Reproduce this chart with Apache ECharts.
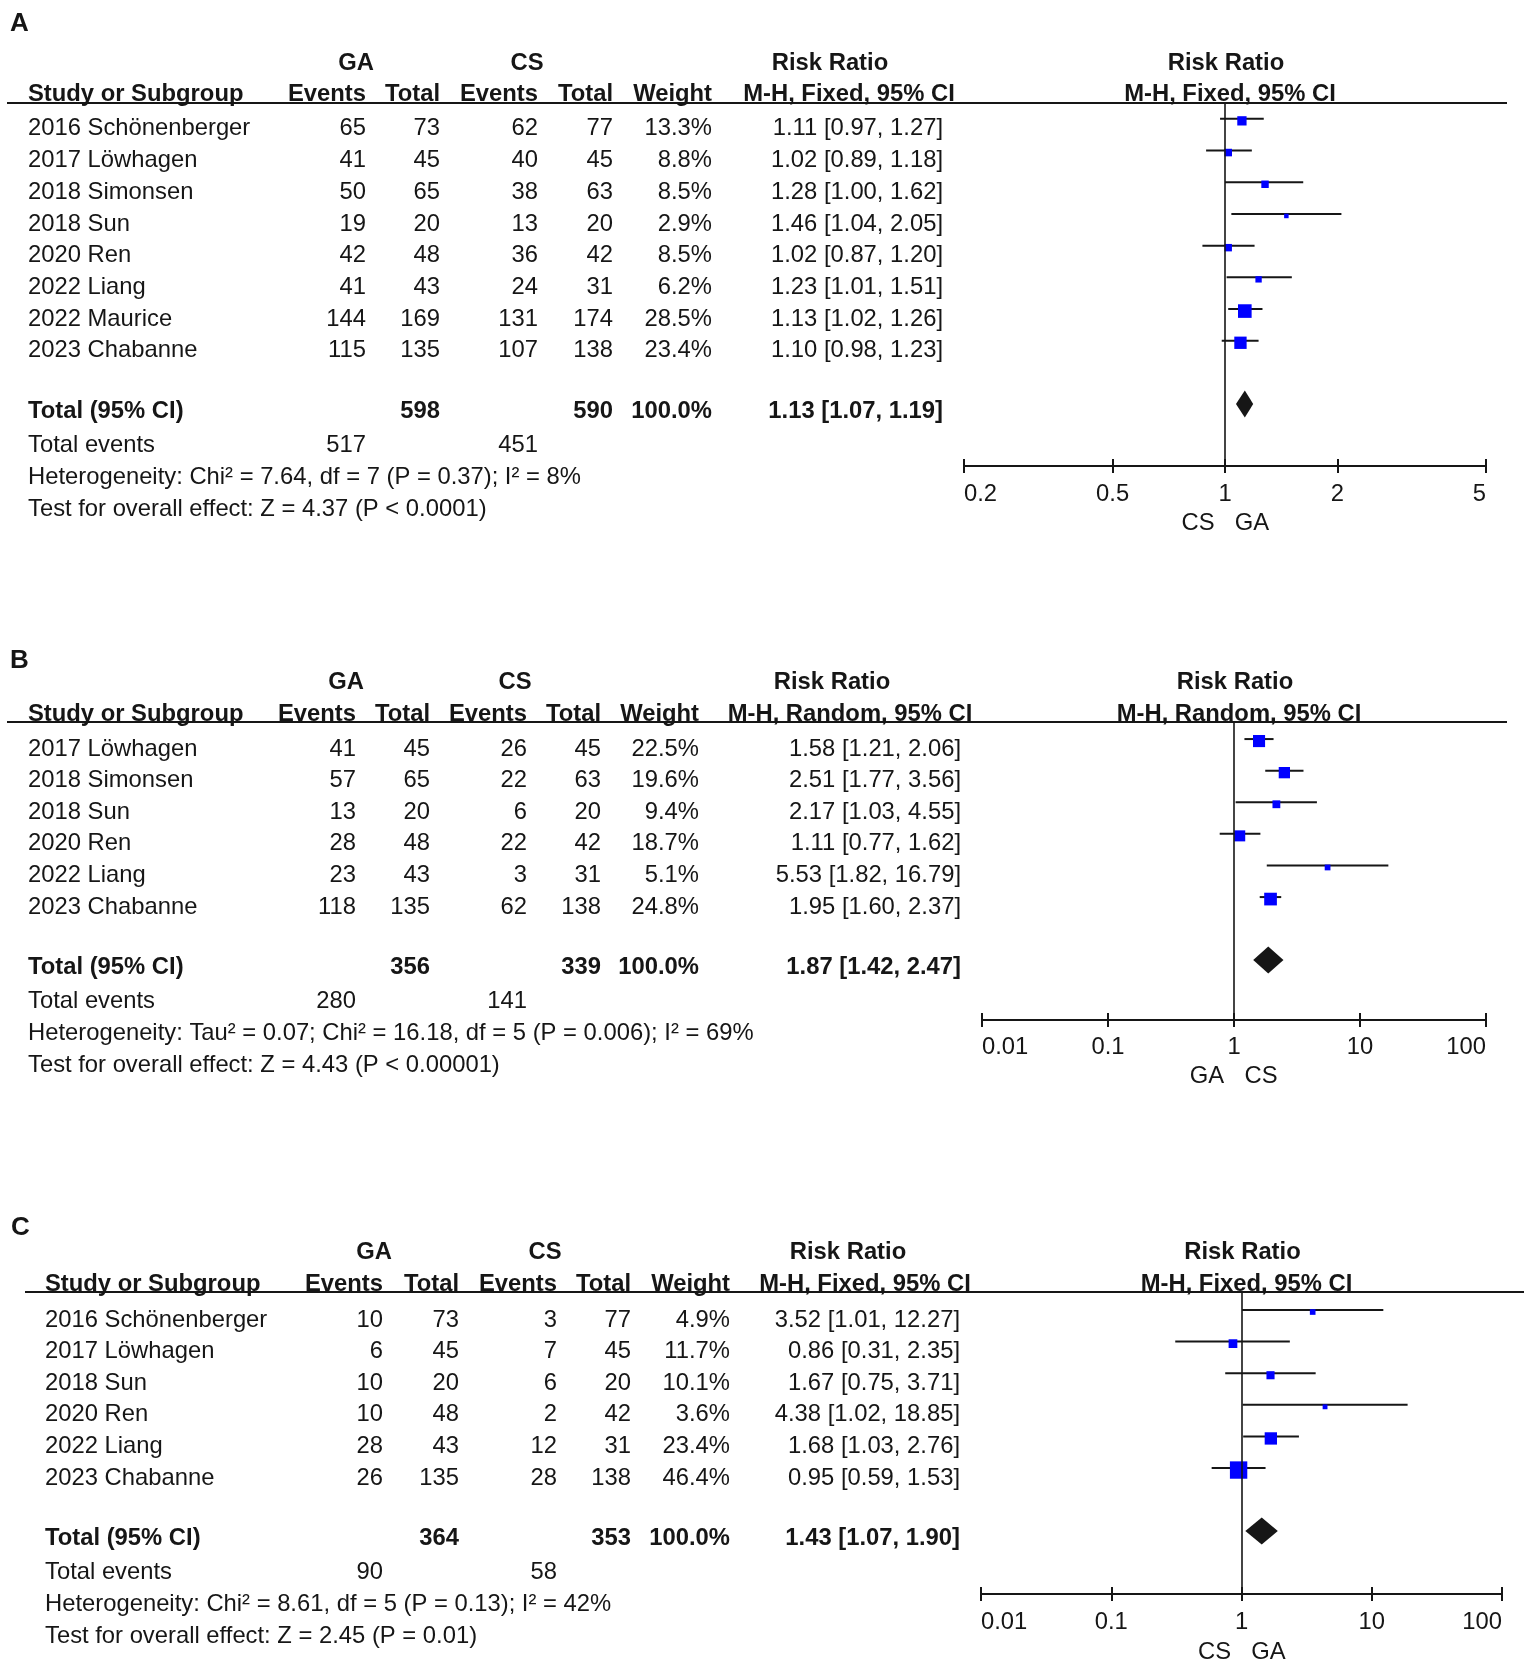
<!DOCTYPE html>
<html>
<head>
<meta charset="utf-8">
<script src="https://cdn.jsdelivr.net/npm/echarts@6.0.0/dist/echarts.min.js"></script>
<style>
html,body{margin:0;padding:0;background:#ffffff;}
#chart{width:1535px;height:1667px;}
</style>
</head>
<body>
<div id="chart"></div>
<script>
// ---------------- DATA ----------------
// Panel A
const studiesA = ['2016 Schönenberger','2017 Löwhagen','2018 Simonsen','2018 Sun','2020 Ren','2022 Liang','2022 Maurice','2023 Chabanne'];
const gaEventsA = [65,41,50,19,42,41,144,115];
const gaTotalA  = [73,45,65,20,48,43,169,135];
const csEventsA = [62,40,38,13,36,24,131,107];
const csTotalA  = [77,45,63,20,42,31,174,138];
const weightA   = [13.3,8.8,8.5,2.9,8.5,6.2,28.5,23.4];
const rrA       = [1.11,1.02,1.28,1.46,1.02,1.23,1.13,1.10];
const lowerA    = [0.97,0.89,1.00,1.04,0.87,1.01,1.02,0.98];
const upperA    = [1.27,1.18,1.62,2.05,1.20,1.51,1.26,1.23];
const totalsA   = [598,590];
const totalEventsA = [517,451];
const pooledA   = [1.13,1.07,1.19];
const methodA   = 'M-H, Fixed, 95% CI';
const hetA      = 'Heterogeneity: Chi² = 7.64, df = 7 (P = 0.37); I² = 8%';
const testA     = 'Test for overall effect: Z = 4.37 (P < 0.0001)';
const directionA = ['CS','GA'];
const ticksA    = [0.2,0.5,1,2,5];
const tickLabelsA = ['0.2','0.5','1','2','5'];

// Panel B
const studiesB = ['2017 Löwhagen','2018 Simonsen','2018 Sun','2020 Ren','2022 Liang','2023 Chabanne'];
const gaEventsB = [41,57,13,28,23,118];
const gaTotalB  = [45,65,20,48,43,135];
const csEventsB = [26,22,6,22,3,62];
const csTotalB  = [45,63,20,42,31,138];
const weightB   = [22.5,19.6,9.4,18.7,5.1,24.8];
const rrB       = [1.58,2.51,2.17,1.11,5.53,1.95];
const lowerB    = [1.21,1.77,1.03,0.77,1.82,1.60];
const upperB    = [2.06,3.56,4.55,1.62,16.79,2.37];
const totalsB   = [356,339];
const totalEventsB = [280,141];
const pooledB   = [1.87,1.42,2.47];
const methodB   = 'M-H, Random, 95% CI';
const hetB      = 'Heterogeneity: Tau² = 0.07; Chi² = 16.18, df = 5 (P = 0.006); I² = 69%';
const testB     = 'Test for overall effect: Z = 4.43 (P < 0.00001)';
const directionB = ['GA','CS'];
const ticksB    = [0.01,0.1,1,10,100];
const tickLabelsB = ['0.01','0.1','1','10','100'];

// Panel C
const studiesC = ['2016 Schönenberger','2017 Löwhagen','2018 Sun','2020 Ren','2022 Liang','2023 Chabanne'];
const gaEventsC = [10,6,10,10,28,26];
const gaTotalC  = [73,45,20,48,43,135];
const csEventsC = [3,7,6,2,12,28];
const csTotalC  = [77,45,20,42,31,138];
const weightC   = [4.9,11.7,10.1,3.6,23.4,46.4];
const rrC       = [3.52,0.86,1.67,4.38,1.68,0.95];
const lowerC    = [1.01,0.31,0.75,1.02,1.03,0.59];
const upperC    = [12.27,2.35,3.71,18.85,2.76,1.53];
const totalsC   = [364,353];
const totalEventsC = [90,58];
const pooledC   = [1.43,1.07,1.90];
const methodC   = 'M-H, Fixed, 95% CI';
const hetC      = 'Heterogeneity: Chi² = 8.61, df = 5 (P = 0.13); I² = 42%';
const testC     = 'Test for overall effect: Z = 2.45 (P = 0.01)';
const directionC = ['CS','GA'];
const ticksC    = [0.01,0.1,1,10,100];
const tickLabelsC = ['0.01','0.1','1','10','100'];

const panelLetters = ['A','B','C'];
const groupNames = ['GA','CS'];
const colHeaders = ['Study or Subgroup','Events','Total','Events','Total','Weight'];
const rrHeader = 'Risk Ratio';
const totalLabel = 'Total (95% CI)';
const totalEventsLabel = 'Total events';

// ---------------- ASSEMBLY ----------------
const panels = [
  {studies:studiesA, gaEv:gaEventsA, gaTot:gaTotalA, csEv:csEventsA, csTot:csTotalA, w:weightA, rr:rrA, lo:lowerA, hi:upperA, totals:totalsA, events:totalEventsA, pooled:pooledA, method:methodA, het:hetA, test:testA, dir:directionA, ticks:ticksA, tickLabels:tickLabelsA},
  {studies:studiesB, gaEv:gaEventsB, gaTot:gaTotalB, csEv:csEventsB, csTot:csTotalB, w:weightB, rr:rrB, lo:lowerB, hi:upperB, totals:totalsB, events:totalEventsB, pooled:pooledB, method:methodB, het:hetB, test:testB, dir:directionB, ticks:ticksB, tickLabels:tickLabelsB},
  {studies:studiesC, gaEv:gaEventsC, gaTot:gaTotalC, csEv:csEventsC, csTot:csTotalC, w:weightC, rr:rrC, lo:lowerC, hi:upperC, totals:totalsC, events:totalEventsC, pooled:pooledC, method:methodC, het:hetC, test:testC, dir:directionC, ticks:ticksC, tickLabels:tickLabelsC}
];

// layout (positions only)
const layouts = [
  {letterX:10, letterY:24, groupY:63, headY:94.5, ruleY:103, ruleX:[7,1507], gridLeft:964, gridRight:1486, axisY:466, yMin:-0.5, yMax:10.95,
   studyX:28, cols:[366,440,538,613,712,943], ga:356, cs:527, rrHead:[830,849], dirY:523, margin:16},
  {letterX:10, letterY:661, groupY:682, headY:714, ruleY:722, ruleX:[7,1507], gridLeft:982, gridRight:1486, axisY:1020, yMin:-0.54, yMax:8.89,
   studyX:28, cols:[356,430,527,601,699,961], ga:346, cs:515, rrHead:[832,850], dirY:1076, margin:15},
  {letterX:11, letterY:1228, groupY:1252, headY:1284, ruleY:1292, ruleX:[25,1524], gridLeft:981, gridRight:1502, axisY:1594, yMin:-0.57, yMax:8.985,
   studyX:45, cols:[383,459,557,631,730,960], ga:374, cs:545, rrHead:[848,865], dirY:1652, margin:16}
];

const FF = '"Liberation Sans", Arial, Helvetica, sans-serif';
const FS = 23.8;
const INK = '#161616';
const BLUE = '#0000ff';
const ROW_DY = 10;
const lg = Math.log10;

const chart = echarts.init(document.getElementById('chart'), null, {renderer:'canvas'});

const grids = [], xAxes = [], yAxes = [], series = [];
panels.forEach((D, p) => {
  const L = layouts[p];
  const logTicks = D.ticks.map(lg);
  const fmt = v => {
    const k = logTicks.findIndex(t => Math.abs(t - v) < 1e-6);
    return k >= 0 ? D.tickLabels[k] : '';
  };
  grids.push({left:L.gridLeft, top:L.ruleY, width:L.gridRight - L.gridLeft, height:L.axisY - L.ruleY, containLabel:false, outerBoundsMode:'none'});
  const base = {gridIndex:p, type:'value', position:'bottom', offset:0,
    min:logTicks[0], max:logTicks[logTicks.length-1], splitLine:{show:false}};
  xAxes.push(Object.assign({}, base, {
    axisLine:{show:true, onZero:false, lineStyle:{color:INK, width:2}},
    axisTick:{show:true, customValues:logTicks, length:7, inside:false, lineStyle:{color:INK, width:2}},
    axisLabel:{show:true, customValues:logTicks, formatter:fmt, margin:L.margin, color:INK, fontSize:FS, fontFamily:FF,
      alignMinLabel:'left', alignMaxLabel:'right', showMinLabel:true, showMaxLabel:true, hideOverlap:false}
  }));
  xAxes.push(Object.assign({}, base, {
    axisLine:{show:false, onZero:false},
    axisTick:{show:true, customValues:logTicks, length:7, inside:true, lineStyle:{color:INK, width:2}},
    axisLabel:{show:false}
  }));
  yAxes.push({gridIndex:p, type:'value', inverse:true, min:L.yMin, max:L.yMax, show:false,
    axisLine:{show:false}, axisTick:{show:false}, axisLabel:{show:false}, splitLine:{show:false}});

  const n = D.studies.length;
  // study CIs and squares
  series.push({
    type:'custom', xAxisIndex:2*p, yAxisIndex:p, clip:false, z:3, silent:true,
    data: D.rr.map((r, i) => [lg(D.lo[i]), lg(D.hi[i]), lg(r), i, D.w[i]]),
    encode:{x:[0,1,2], y:3},
    renderItem:(params, api) => {
      const a = api.coord([api.value(0), api.value(3)]);
      const b = api.coord([api.value(1), api.value(3)]);
      const c = api.coord([api.value(2), api.value(3)]);
      const s = Math.max(4.5, 2.55 * Math.sqrt(api.value(4)));
      return {type:'group', children:[
        {type:'line', shape:{x1:a[0], y1:a[1], x2:b[0], y2:b[1]}, style:{stroke:INK, lineWidth:2}},
        {type:'rect', shape:{x:c[0]-s/2, y:c[1]+2-s/2, width:s, height:s}, style:{fill:BLUE}}
      ]};
    }
  });
  // pooled diamond + line of no effect
  series.push({
    type:'custom', xAxisIndex:2*p, yAxisIndex:p, clip:false, z:2, silent:true,
    data:[[lg(D.pooled[1]), lg(D.pooled[2]), lg(D.pooled[0]), n + 0.9]],
    encode:{x:[0,1,2], y:3},
    renderItem:(params, api) => {
      const a = api.coord([api.value(0), api.value(3)]);
      const b = api.coord([api.value(1), api.value(3)]);
      const c = api.coord([api.value(2), api.value(3)]);
      const h = 13.5, dy = 3;
      return {type:'polygon', shape:{points:[[a[0], a[1]+dy],[c[0], c[1]+dy-h],[b[0], b[1]+dy],[c[0], c[1]+dy+h]]}, style:{fill:INK}};
    },
    markLine:{silent:true, animation:false, symbol:['none','none'], label:{show:false},
      lineStyle:{color:INK, width:1.6, type:'solid'}, emphasis:{disabled:true},
      data:[{xAxis:0}]}
  });
});

chart.setOption({
  animation:false,
  backgroundColor:'#ffffff',
  grid:grids, xAxis:xAxes, yAxis:yAxes, series:series
});

// ---------------- TABLE TEXT ----------------
function T(x, y, text, align, bold, size) {
  const f = (bold ? 'bold ' : '') + (size || FS) + 'px ' + FF;
  return {type:'text', x:x, y:y, silent:true, z:10,
    style:{text:String(text), font:f, fill:INK, align:align, verticalAlign:'middle', textAlign:align, textVerticalAlign:'middle'}};
}
const graphics = [];
panels.forEach((D, p) => {
  const L = layouts[p];
  const yPix = idx => chart.convertToPixel({xAxisIndex:2*p, yAxisIndex:p}, [0, idx])[1] + ROW_DY;
  const x1 = chart.convertToPixel({xAxisIndex:2*p, yAxisIndex:p}, [0, 0])[0];
  const n = D.studies.length;
  const c = L.cols;

  graphics.push(T(L.letterX, L.letterY, panelLetters[p], 'left', true, 26));
  graphics.push(T(L.ga, L.groupY, groupNames[0], 'center', true));
  graphics.push(T(L.cs, L.groupY, groupNames[1], 'center', true));
  graphics.push(T(L.rrHead[0], L.groupY, rrHeader, 'center', true));
  graphics.push(T(x1 + 1, L.groupY, rrHeader, 'center', true));
  graphics.push(T(L.studyX, L.headY, colHeaders[0], 'left', true));
  for (let k = 1; k <= 5; k++) graphics.push(T(c[k-1], L.headY, colHeaders[k], 'right', true));
  graphics.push(T(L.rrHead[1], L.headY, D.method, 'center', true));
  graphics.push(T(x1 + 5, L.headY, D.method, 'center', true));
  graphics.push({type:'line', silent:true, z:9, shape:{x1:L.ruleX[0], y1:L.ruleY, x2:L.ruleX[1], y2:L.ruleY}, style:{stroke:INK, lineWidth:2}});

  D.studies.forEach((s, i) => {
    const y = yPix(i);
    graphics.push(T(L.studyX, y, s, 'left', false));
    graphics.push(T(c[0], y, D.gaEv[i], 'right', false));
    graphics.push(T(c[1], y, D.gaTot[i], 'right', false));
    graphics.push(T(c[2], y, D.csEv[i], 'right', false));
    graphics.push(T(c[3], y, D.csTot[i], 'right', false));
    graphics.push(T(c[4], y, D.w[i].toFixed(1) + '%', 'right', false));
    graphics.push(T(c[5], y, D.rr[i].toFixed(2) + ' [' + D.lo[i].toFixed(2) + ', ' + D.hi[i].toFixed(2) + ']', 'right', false));
  });
  const wSum = D.w.reduce((a, b) => a + b, 0);
  const yt = yPix(n + 0.9);
  graphics.push(T(L.studyX, yt, totalLabel, 'left', true));
  graphics.push(T(c[1], yt, D.totals[0], 'right', true));
  graphics.push(T(c[3], yt, D.totals[1], 'right', true));
  graphics.push(T(c[4], yt, (Math.round(wSum / 10) * 10).toFixed(1) + '%', 'right', true));
  graphics.push(T(c[5], yt, D.pooled[0].toFixed(2) + ' [' + D.pooled[1].toFixed(2) + ', ' + D.pooled[2].toFixed(2) + ']', 'right', true));
  const ye = yPix(n + 2);
  graphics.push(T(L.studyX, ye, totalEventsLabel, 'left', false));
  graphics.push(T(c[0], ye, D.events[0], 'right', false));
  graphics.push(T(c[2], ye, D.events[1], 'right', false));
  graphics.push(T(L.studyX, yPix(n + 3), D.het, 'left', false));
  graphics.push(T(L.studyX, yPix(n + 4), D.test, 'left', false));
  graphics.push(T(x1 - 27, L.dirY, D.dir[0], 'center', false));
  graphics.push(T(x1 + 27, L.dirY, D.dir[1], 'center', false));
});
chart.setOption({graphic:{elements:graphics}});
</script>
</body>
</html>
